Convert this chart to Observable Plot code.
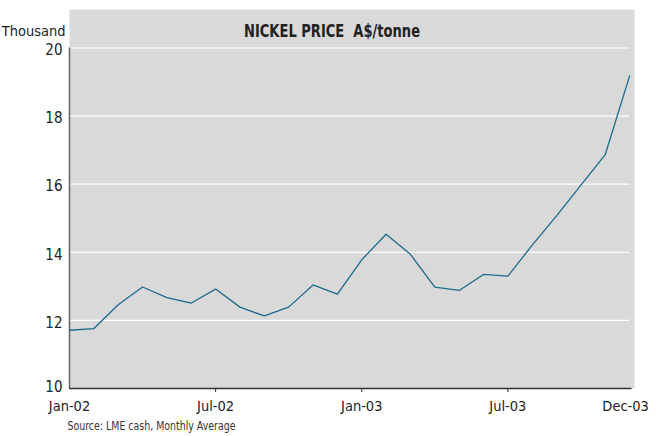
<!DOCTYPE html>
<html><head><meta charset="utf-8">
<script src="https://cdn.jsdelivr.net/npm/d3@7"></script>
<script src="https://cdn.jsdelivr.net/npm/@observablehq/plot@0.6"></script>
<style>body{margin:0;background:#fff} svg{font-stretch:condensed}</style>
</head><body><div id="chart"></div>
<script>
const months = ["Jan-02","Feb-02","Mar-02","Apr-02","May-02","Jun-02","Jul-02","Aug-02","Sep-02","Oct-02","Nov-02","Dec-02",
                "Jan-03","Feb-03","Mar-03","Apr-03","May-03","Jun-03","Jul-03","Aug-03","Sep-03","Oct-03","Nov-03","Dec-03"];
const prices = [11.71,11.76,12.46,12.98,12.67,12.51,12.92,12.39,12.13,12.39,13.04,12.77,
                13.78,14.53,13.94,12.98,12.88,13.35,13.30,14.21,15.07,15.97,16.87,19.18];
const xTickLabels = ["Jan-02","Jul-02","Jan-03","Jul-03"];
const xLastLabel = ["Dec-03"];
const xTickMarks = ["Jul-02","Jan-03","Jul-03"];
const yTicks = [12,14,16,18,20];
const yBaseTick = [10];
const gridValues = [12,14,16,18,20];
const title = "NICKEL PRICE\u00a0 A$/tonne";
const unitLabel = "Thousand";
const source = "Source: LME cash, Monthly Average";

const data = months.map((m, i) => ({i, month: m, price: prices[i]}));
const idx = l => months.indexOf(l);
const last = months.length - 1;
const font = "'Liberation Sans Narrow', 'DejaVu Sans Condensed', 'DejaVu Sans', sans-serif";

const chart = Plot.plot({
  width: 656,
  height: 436,
  marginLeft: 69,
  marginRight: 22,
  marginTop: 9,
  marginBottom: 48,
  style: {fontFamily: font, fontStretch: "condensed", background: "#fff", color: "#222"},
  x: {domain: [0, last + 0.2], axis: null},
  y: {domain: [10, 21.13], axis: null},
  marks: [
    Plot.frame({fill: "#d9d9d9", stroke: null}),
    Plot.ruleY(gridValues, {y: d => d, x1: 0, x2: last, stroke: "#fff", strokeWidth: 1.2}),
    Plot.ruleX([0], {y1: 10, y2: 20, stroke: "#666", strokeWidth: 1.5}),
    Plot.ruleY([10], {x1: 0, x2: last + 0.1, stroke: "#333", strokeWidth: 1.5}),
    Plot.axisX({ticks: xTickMarks.map(idx), tickSize: 4, tickFormat: () => "", stroke: "#333", label: null}),
    Plot.axisX({ticks: xTickLabels.map(idx), tickSize: 0, tickPadding: 12, tickFormat: i => months[i], fontSize: 14.5, fill: "#222", label: null}),
    Plot.axisX({ticks: xLastLabel.map(idx), tickSize: 0, tickPadding: 12, dx: -4, tickFormat: i => months[i], fontSize: 14.5, fill: "#222", label: null}),
    Plot.axisY({ticks: yTicks, tickSize: 0, tickPadding: 7, fontSize: 15, dy: 2.5, fill: "#222", label: null}),
    Plot.axisY({ticks: yBaseTick, tickSize: 0, tickPadding: 7, fontSize: 15, dy: -1, fill: "#222", label: null}),
    Plot.line(data, {x: "i", y: "price", stroke: "#1d6a8c", strokeWidth: 1.3}),
    Plot.text([title], {frameAnchor: "top", dx: -20, dy: 15, fontSize: 18, fontWeight: "bold", fill: "#222"}),
    Plot.text([unitLabel], {frameAnchor: "top-left", textAnchor: "end", dx: -4, dy: 16.5, fontSize: 14.5, fill: "#222"}),
    Plot.text([source], {frameAnchor: "bottom-left", textAnchor: "start", dx: -2, dy: 41, fontSize: 12.5, fill: "#333"})
  ]
});
d3.select(chart).selectAll("text").each(function() {
  const t = this.textContent;
  if (t === title) d3.select(this).attr("textLength", 176).attr("lengthAdjust", "spacingAndGlyphs");
  if (t === source) d3.select(this).attr("textLength", 168).attr("lengthAdjust", "spacingAndGlyphs");
});
document.getElementById("chart").append(chart);
</script>
</body></html>
